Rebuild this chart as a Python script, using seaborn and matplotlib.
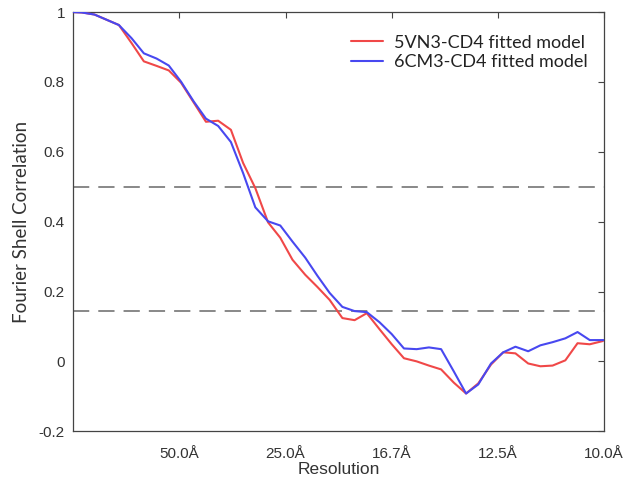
import numpy as np
import pandas as pd
import matplotlib
matplotlib.use('Agg')
import matplotlib.pyplot as plt
import seaborn as sns

# spatial frequency (1/A) of the FSC shells
freq = [0.0, 0.0016, 0.0040, 0.0063, 0.0086, 0.0110, 0.0133, 0.0157, 0.0180, 0.0203,
        0.0227, 0.0250, 0.0273, 0.0297, 0.0320, 0.0343, 0.0367, 0.0390, 0.0413, 0.0437,
        0.0460, 0.0483, 0.0507, 0.0530, 0.0553, 0.0577, 0.0600, 0.0623, 0.0647, 0.0670,
        0.0693, 0.0717, 0.0740, 0.0763, 0.0787, 0.0810, 0.0833, 0.0857, 0.0880, 0.0903,
        0.0927, 0.0950, 0.0973, 0.0997, 0.1000]

fsc_5vn3 = [1.0, 0.999, 0.993, 0.978, 0.963, 0.911, 0.859, 0.846, 0.833, 0.798,
            0.741, 0.686, 0.689, 0.663, 0.568, 0.496, 0.398, 0.354, 0.291, 0.248,
            0.213, 0.176, 0.124, 0.118, 0.138, 0.092, 0.049, 0.009, 0.000, -0.012,
            -0.023, -0.061, -0.092, -0.063, -0.009, 0.026, 0.023, -0.006, -0.014, -0.012,
            0.003, 0.052, 0.049, 0.058, 0.061]

fsc_6cm3 = [1.0, 0.999, 0.993, 0.978, 0.963, 0.925, 0.882, 0.867, 0.847, 0.801,
            0.744, 0.695, 0.674, 0.628, 0.539, 0.441, 0.401, 0.389, 0.343, 0.297,
            0.245, 0.196, 0.156, 0.144, 0.141, 0.112, 0.078, 0.037, 0.035, 0.040,
            0.035, -0.029, -0.092, -0.066, -0.006, 0.026, 0.042, 0.029, 0.046, 0.055,
            0.066, 0.084, 0.061, 0.061, 0.061]

labels = ['5VN3-CD4 fitted model', '6CM3-CD4 fitted model']
thresholds = [0.5, 0.143]

xticks = [0.02, 0.04, 0.06, 0.08, 0.10]
xticklabels = ['50.0Å', '25.0Å', '16.7Å', '12.5Å', '10.0Å']
yticks = [-0.2, 0, 0.2, 0.4, 0.6, 0.8, 1]
yticklabels = ['-0.2', '0', '0.2', '0.4', '0.6', '0.8', '1']

df = pd.DataFrame({
    'freq': freq + freq,
    'fsc': fsc_5vn3 + fsc_6cm3,
    'model': [labels[0]] * len(freq) + [labels[1]] * len(freq),
})

sns.set_style('white')
plt.rcParams['font.family'] = ['Liberation Sans', 'DejaVu Sans']

fig = plt.figure(figsize=(6.26, 4.84), dpi=100)
ax = fig.add_axes([0.117, 0.109, 0.848, 0.866])

for t in thresholds:
    ax.axhline(t, color='#7f7f7f', linestyle=(0, (9, 5)), linewidth=1.3, zorder=1)

sns.lineplot(data=df, x='freq', y='fsc', hue='model', sort=False,
             palette=['#f04848', '#4848f0'], linewidth=1.5, ax=ax, zorder=3)

ax.set_xlim(0, 0.1)
ax.set_ylim(-0.2, 1)
ax.set_xticks(xticks)
ax.set_xticklabels(xticklabels)
ax.set_yticks(yticks)
ax.set_yticklabels(yticklabels)
ax.tick_params(direction='in', length=4, width=0.8, colors='#444444',
               labelcolor='#333333', labelsize=11, top=True, right=True,
               labeltop=False, labelright=False, pad=6)
ax.tick_params(axis='x', pad=11)
for s in ax.spines.values():
    s.set_color('#444444')
    s.set_linewidth(0.9)

ax.set_xlabel('Resolution', fontsize=12.5, color='#333333', labelpad=1)
ax.set_ylabel('Fourier Shell Correlation', fontsize=13.5, color='#333333',
              family=['Lato', 'DejaVu Sans'], labelpad=6)

leg = ax.legend(loc='upper right', bbox_to_anchor=(1.0, 0.985), frameon=False,
                handlelength=1.8, handletextpad=0.6, labelspacing=0.2,
                prop={'family': ['Lato', 'DejaVu Sans'], 'size': 13})
for txt in leg.get_texts():
    txt.set_color('#222222')

fig.savefig('out.png', dpi=100, facecolor='white')
